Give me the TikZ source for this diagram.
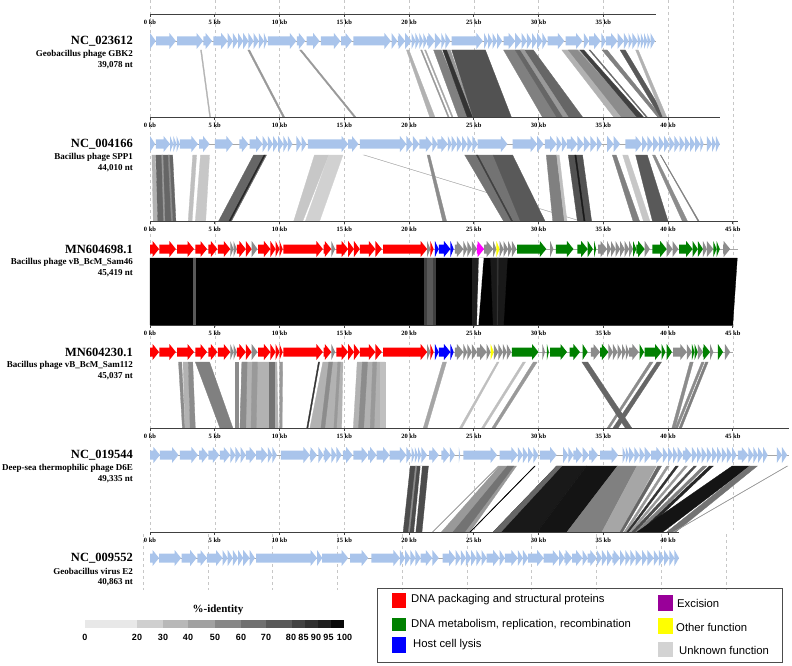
\documentclass[tikz,border=0pt]{standalone}
\usepackage{fontspec}
\setmainfont{Liberation Serif}
\newfontfamily\lsans{Liberation Sans}
\definecolor{gblue}{HTML}{A9C4EB}
\definecolor{gred}{HTML}{FF0000}
\definecolor{ggreen}{HTML}{008000}
\definecolor{gbl}{HTML}{0000FF}
\definecolor{gmag}{HTML}{FF00FF}
\definecolor{gyel}{HTML}{FFFF00}
\definecolor{ggray}{HTML}{8C8C8C}
\definecolor{gpurp}{HTML}{990099}
\definecolor{gunk}{HTML}{D3D3D3}
\newcommand\gn[4]{\pgfmathsetmacro\hs{max(#1,#2-0.5)}\fill[#4] (#1,#3-4.5) -- (\hs,#3-4.5) -- (\hs,#3-8) -- (#2,#3) -- (\hs,#3+8) -- (\hs,#3+4.5) -- (#1,#3+4.5) -- cycle;}
\newcommand\bands[3]{\foreach \a/\b/\c/\d/\e in {#3} {\filldraw[fill=\e,draw=\e,line width=0.3pt] (\a,#1) -- (\b,#1) -- (\d,#2) -- (\c,#2) -- cycle;}}
\newcommand\axis[3]{\draw[axisline] (0,#1) -- (#2,#1);
 \foreach \k in {0,5,...,#3} {\draw[axisline] (\k,#1) -- (\k,#1+3); \node[ticklab] at (\k,#1+8.5) {\k\ kb};}}
\newcommand\backbone[2]{\draw[gray!70,line width=0.5pt] (0,#1) -- (#2,#1);}
\tikzset{
 axisline/.style={black!75,line width=0.8pt},
 ticklab/.style={font=\bfseries\fontsize{6.5}{7}\selectfont,inner sep=0pt},
 grid/.style={black!22,line width=0.5pt,dash pattern=on 3pt off 3pt},
 acc/.style={anchor=east,inner sep=0pt,font=\bfseries\fontsize{12.5}{13}\selectfont},
 spec/.style={anchor=east,inner sep=0pt,font=\bfseries\fontsize{9}{10}\selectfont},
 legtext/.style={anchor=west,inner sep=0pt,font=\lsans\fontsize{11.3}{13}\selectfont},
 idlab/.style={inner sep=0pt,font=\lsans\bfseries\fontsize{9}{10}\selectfont}
}
\begin{document}
\begin{tikzpicture}[x=1pt,y=-1pt]
\useasboundingbox (0,0) rectangle (792,666);
% grid lines
\foreach \k in {0,...,9} {\draw[grid] (150+64.75*\k,0) -- (150+64.75*\k,530);}
\foreach \k in {0,...,9} {\draw[grid] (143+64.75*\k,534) -- (143+64.75*\k,590);}
\begin{scope}[xshift=150pt,x=12.95pt]
% ---------- band 1
\bands{50}{117}{3.9/3.98/4.6/4.68/black!30, 7.55/7.7/10.25/10.4/black!40, 11.55/11.7/15.75/15.9/black!40,
 19.8/20.0/21.6/22.0/black!30, 20.9/21.0/23.0/23.1/black!40, 21.2/21.3/23.3/23.4/black!35,
 21.9/22.5/23.8/24.6/black!50, 22.9/23.2/24.7/25.0/black!40, 22.6/22.9/24.5/24.9/black!80,
 23.3/25.9/24.95/27.9/black!68, 27.3/28.2/30.3/31.5/black!50, 28.2/29.6/31.4/33.4/black!60,
 28.6/28.9/31.9/32.3/black!40, 31.8/33.2/35.8/38.1/black!30, 32.3/33.0/36.4/37.7/black!45,
 33.2/33.5/37.6/38.1/black!75, 33.9/34.0/38.3/38.4/black!60, 34.9/35.3/39.2/39.5/black!50,
 36.3/36.7/39.4/39.8/black!65, 37.5/37.7/39.6/39.9/black!30}
% ---------- band 2
\bands{155}{221}{0.15/0.4/0.25/0.6/black!30, 0.45/1.75/0.6/2.0/black!60, 0.9/1.0/1.05/1.15/black!40,
 1.4/1.5/1.65/1.75/black!45,
 3.3/3.6/2.95/3.25/black!25, 3.9/4.6/3.5/4.3/black!22, 8.0/9.0/5.3/6.3/black!60,
 8.8/8.9/6.1/6.2/black!85, 12.7/13.8/11.1/11.8/black!22, 13.8/14.9/12.0/13.1/black!18,
 16.5/16.55/33.2/33.25/black!30, 21.4/21.6/22.6/22.9/black!45, 24.3/26.5/27.3/29.1/black!55,
 25.2/25.3/27.9/28.0/black!75, 26.5/28.0/28.6/30.5/black!65, 30.6/31.4/31.1/32.0/black!50,
 31.4/31.6/32.0/32.2/black!25, 32.3/33.4/33.0/34.1/black!68, 32.8/32.9/33.5/33.6/black!90,
 35.7/36.0/37.3/37.8/black!50, 36.5/36.9/38.1/38.6/black!22, 37.5/38.4/38.8/40.0/black!65,
 38.8/39.0/41.1/41.5/black!45, 39.4/39.45/42.3/42.4/black!50}
% ---------- band 3
\bands{258}{325}{0/45.35/0/45.0/black, 3.35/3.45/3.35/3.45/black!65, 21.2/22.0/21.2/22.0/black!75,
 21.4/21.8/21.4/21.8/black!65, 24.9/25.25/24.9/25.25/black!88, 25.4/25.75/25.25/25.35/white,
 26.3/27.6/26.5/27.3/black!90, 26.8/26.9/26.8/26.85/black!80}
% ---------- band 4
\bands{362}{428}{2.2/2.45/2.5/2.7/black!45, 2.55/2.95/2.7/3.1/black!30, 2.95/3.3/3.1/3.5/black!45,
 3.5/4.6/5.4/6.4/black!50, 6.6/6.8/6.6/6.8/black!45, 7.1/9.8/6.95/9.9/black!30,
 7.1/7.5/6.95/7.4/black!45, 7.9/8.3/7.8/8.2/black!40, 9.2/9.6/9.2/9.6/black!55,
 10.0/10.25/10.0/10.2/black!40, 13.0/13.1/12.1/12.2/black!80, 13.35/14.9/12.35/14.8/black!30,
 13.8/14.1/13.2/13.5/black!45, 14.5/14.7/14.2/14.4/black!40,
 16.0/18.15/15.7/18.15/black!30, 16.4/16.8/16.1/16.5/black!45, 17.2/17.5/17.0/17.3/black!40,
 17.75/18.15/17.75/18.15/black!25,
 22.6/22.9/21.1/21.4/black!35, 26.8/26.95/23.9/24.1/black!25, 28.8/29.0/25.6/25.8/black!25,
 29.6/29.9/26.4/26.65/black!40, 38.6/38.85/35.3/35.5/black!45, 39.15/39.5/35.75/36.15/black!60,
 33.35/33.8/36.7/37.2/black!60,
 41.7/41.95/40.3/40.55/black!45, 42.6/42.8/40.55/40.75/black!45, 42.9/43.1/40.85/41.05/black!50}
% ---------- band 5
\bands{466}{532}{20.1/21.5/19.55/21.0/black!70, 20.9/21.0/20.4/20.5/white, 20.5/20.6/19.95/20.05/black!45,
 26.9/26.95/21.8/21.85/black!40, 27.0/28.3/22.5/24.7/black!40, 27.6/28.1/23.4/24.3/black!55,
 29.7/29.75/24.7/24.75/black, 31.4/33.7/26.5/29.9/black!90, 31.4/31.8/26.5/27.1/black!60,
 33.7/36.1/29.9/32.2/black!92, 36.1/37.6/32.2/34.9/black!50, 37.6/39.1/34.9/36.3/black!35,
 39.2/39.5/36.3/36.5/black!60, 39.9/40.1/36.6/36.8/black!40, 40.6/40.8/36.8/37.0/black!80,
 41.3/41.5/37.0/37.2/black!40, 42.0/42.2/37.2/37.5/black!70, 42.7/43.0/37.5/37.8/black!50,
 43.2/43.5/37.8/38.1/black!85, 44.95/46.3/37.6/39.6/black!92, 46.3/46.9/39.9/40.6/black!55,
 49.2/49.25/40.4/40.45/black!40}
% ---------- track 1
\axis{14}{39.078}{35}
\backbone{41}{39.078}
\foreach \a/\b in {0/0.45, 0.47/2.0, 2.1/4.1, 4.12/4.8, 4.9/6.0, 6.0/6.4, 6.4/6.8, 6.8/7.2, 7.2/7.6, 7.6/8.0, 8.0/8.4, 8.4/8.8, 8.8/9.05, 9.1/11.3, 11.35/12.0, 12.1/13.1, 13.2/14.7, 14.75/15.6, 15.7/18.6, 18.65/19.1, 19.15/19.7, 19.7/20.2, 20.2/20.5, 20.5/20.8, 20.8/21.1, 21.1/21.4, 21.4/22.0, 22.0/22.5, 22.5/22.8, 22.8/23.2, 23.3/25.7, 25.8/26.1, 26.1/26.45, 26.45/26.8, 26.8/27.2, 27.3/28.2, 28.2/28.7, 28.7/29.1, 29.1/29.5, 29.5/29.9, 29.9/30.3, 30.3/30.65, 30.7/32.0, 32.1/33.4, 33.5/33.9, 33.9/34.8, 34.85/35.2, 35.2/36.1, 36.1/36.6, 36.6/36.95, 36.95/37.25, 37.25/37.65, 37.65/37.9, 37.9/38.15, 38.15/38.4, 38.4/38.65, 38.65/39.0} {\gn{\a}{\b}{41}{gblue}}
% ---------- track 2
\axis{117}{44.01}{40}
\backbone{144}{44.01}
\foreach \a/\b in {0/0.4, 0.45/1.55, 1.55/1.8, 1.8/2.05, 2.05/2.3, 2.3/3.7, 3.8/4.6, 5.0/6.4, 6.9/7.6, 7.7/8.7, 8.7/9.1, 9.1/9.5, 9.5/9.9, 9.9/10.3, 10.3/10.65, 10.65/11.0, 11.3/11.7, 11.7/12.1, 12.2/15.3, 15.3/16.1, 16.2/19.8, 19.8/20.3, 20.3/20.8, 20.8/21.8, 21.8/22.2, 22.2/23.0, 23.0/23.3, 23.3/23.7, 23.7/24.1, 24.1/24.5, 24.5/24.9, 24.9/25.3, 25.3/27.6, 28.0/29.9, 29.9/30.4, 30.5/31.4, 31.4/31.8, 31.8/32.2, 32.2/33.0, 33.0/33.5, 33.5/34.0, 34.0/34.5, 34.5/34.9, 35.3/35.8, 35.8/36.3, 36.7/38.0, 38.0/38.4, 38.4/38.85, 38.85/39.3, 39.3/39.7, 39.7/40.1, 40.1/40.5, 40.5/40.9, 40.9/41.3, 41.3/41.7, 41.7/42.1, 42.1/42.5, 42.5/42.75, 43.0/43.4, 43.4/43.7, 43.7/44.0} {\gn{\a}{\b}{144}{gblue}}
% ---------- track 3
\axis{221}{45.419}{45}
\backbone{249}{45.419}
\foreach \a/\b/\c in {0/0.7/gred, 0.72/2.0/gred, 2.1/3.4/gred, 3.5/4.4/gred, 4.5/5.2/gred, 5.25/6.2/gred, 6.2/6.45/ggray, 6.45/6.7/ggray, 6.7/7.4/gred, 7.4/7.85/gred, 7.85/8.3/ggray, 8.35/9.3/gred, 9.3/9.7/gred, 9.7/10.0/gred, 10.0/10.25/gred, 10.3/13.35/gred, 13.4/14.0/gred, 14.0/14.3/ggray, 14.4/15.3/gred, 15.3/15.75/gred, 15.75/16.2/gred, 16.2/17.4/gred, 17.4/17.9/gred, 18.0/21.4/gred, 21.4/21.65/ggray, 21.65/21.9/gred, 22.0/22.3/gbl, 22.3/23.2/gbl, 23.2/23.45/gbl, 23.55/24.2/ggray, 24.2/24.5/ggray, 24.5/24.85/ggray, 24.85/25.25/ggray, 25.25/25.8/gmag, 25.8/26.5/ggray, 26.5/26.75/ggray, 26.75/27.0/gyel, 27.0/27.3/ggray, 27.3/27.65/ggray, 27.65/27.95/ggray, 27.95/28.3/ggray, 28.35/30.6/ggreen, 30.9/31.15/ggray, 31.35/32.7/ggreen, 33.0/33.8/ggreen, 33.8/34.2/ggreen, 34.3/34.45/ggreen, 34.6/35.3/ggray, 35.3/35.6/ggray, 35.6/35.95/ggray, 35.95/36.3/ggray, 36.3/36.65/ggray, 36.65/37.0/ggray, 37.0/37.3/ggray, 37.3/37.55/ggreen, 37.55/38.2/ggreen, 38.2/38.6/ggray, 38.8/39.9/ggreen, 39.9/40.35/ggray, 40.35/40.8/ggray, 40.85/41.9/ggreen, 41.9/42.3/ggreen, 42.3/42.7/ggreen, 42.7/43.0/ggray, 43.0/43.5/ggray, 43.5/43.75/ggreen, 43.75/44.0/ggreen, 44.25/44.8/ggray} {\gn{\a}{\b}{249}{\c}}
% ---------- track 4
\axis{325}{45.037}{45}
\backbone{352}{45.037}
\foreach \a/\b/\c in {0/0.7/gred, 0.72/2.0/gred, 2.1/3.4/gred, 3.5/4.4/gred, 4.5/5.2/gred, 5.25/6.2/gred, 6.2/6.45/ggray, 6.45/6.7/ggray, 6.7/7.4/gred, 7.4/7.85/gred, 7.85/8.3/ggray, 8.35/9.3/gred, 9.3/9.7/gred, 9.7/10.0/gred, 10.0/10.25/gred, 10.3/13.35/gred, 13.4/14.0/gred, 14.0/14.3/ggray, 14.4/15.3/gred, 15.3/15.75/gred, 15.75/16.2/gred, 16.2/17.4/gred, 17.4/17.9/gred, 18.0/21.4/gred, 21.4/21.65/ggray, 21.65/21.9/gred, 22.0/22.3/gbl, 22.3/23.2/gbl, 23.2/23.45/gbl, 23.55/24.2/ggray, 24.2/24.5/ggray, 24.5/24.85/ggray, 24.85/25.25/ggray, 25.25/26.0/ggray, 26.0/26.3/ggray, 26.3/26.55/gyel, 26.55/26.9/ggray, 26.9/27.25/ggray, 27.25/27.55/ggray, 27.55/27.9/ggray, 27.95/30.0/ggreen, 30.3/30.5/ggray, 30.65/30.8/ggreen, 30.9/32.2/ggreen, 32.4/33.2/ggreen, 33.4/33.8/ggreen, 34.05/34.75/ggray, 34.75/35.4/ggreen, 35.4/35.75/ggray, 35.75/36.1/ggray, 36.1/36.45/ggray, 36.45/36.75/ggray, 36.75/37.0/ggray, 37.0/37.75/ggray, 37.8/38.15/ggreen, 38.2/39.5/ggreen, 39.5/39.8/ggreen, 39.9/40.3/ggreen, 40.4/41.45/ggray, 41.45/41.85/ggray, 41.85/42.05/ggreen, 42.05/42.3/ggreen, 42.3/42.7/ggray, 42.7/43.25/ggreen, 43.25/43.5/ggray, 43.85/44.25/ggreen, 44.4/44.8/ggray} {\gn{\a}{\b}{352}{\c}}
% ---------- track 5
\axis{428}{49.335}{45}
\backbone{455}{49.335}
\foreach \a/\b in {0/0.77, 0.77/2.2, 2.3/3.7, 3.8/4.5, 4.5/5.35, 5.4/6.2, 6.2/6.6, 6.6/7.0, 7.0/7.4, 7.4/8.2, 8.2/9.1, 9.1/9.45, 9.45/9.8, 10.1/12.35, 12.35/12.9, 13.0/13.4, 13.4/14.0, 14.0/14.4, 14.4/14.8, 14.9/15.65, 15.7/16.85, 16.85/17.5, 17.5/18.5, 18.5/19.8, 19.8/20.2, 20.2/20.45, 20.45/20.7, 20.7/20.95, 20.95/21.4, 21.55/22.3, 22.5/23.15, 23.15/23.55, 23.85/23.95, 24.2/26.8, 27.0/28.4, 28.4/28.8, 28.8/29.2, 29.2/29.6, 29.6/30.0, 30.1/31.4, 31.9/32.3, 32.3/32.7, 32.7/33.4, 33.4/33.9, 33.9/34.6, 34.75/36.15, 36.5/36.75, 36.75/37.0, 37.0/37.4, 37.4/37.8, 37.8/38.2, 38.2/38.7, 38.7/39.6, 39.6/40.0, 40.0/40.4, 40.4/40.75, 40.75/41.15, 41.15/41.85, 41.85/42.25, 42.25/42.6, 42.6/43.0, 43.0/43.4, 43.4/43.8, 43.8/44.15, 44.15/44.55, 44.55/44.95, 44.95/45.3, 45.4/46.2, 46.2/46.6, 46.6/46.95, 46.95/47.35, 47.35/47.7, 48.4/48.8, 48.8/49.2} {\gn{\a}{\b}{455}{gblue}}
% ---------- track 6
\axis{532}{40.863}{40}
\backbone{558}{40.863}
\foreach \a/\b in {0/0.7, 0.7/2.4, 2.45/3.6, 3.65/4.4, 4.4/5.6, 5.6/6.0, 6.0/6.4, 6.4/6.8, 6.8/7.2, 7.2/7.7, 7.7/8.1, 8.2/12.9, 12.9/13.3, 13.3/15.3, 15.45/16.85, 17.1/19.3, 19.3/19.7, 19.7/20.1, 20.1/20.5, 20.5/20.9, 20.9/21.8, 21.8/22.3, 22.6/23.6, 23.6/24.0, 24.0/24.4, 24.4/24.8, 24.8/25.2, 25.2/25.6, 25.6/26.0, 26.0/27.0, 27.0/27.4, 27.4/28.4, 28.4/28.8, 28.8/29.2, 29.2/30.4, 30.4/31.6, 31.6/32.0, 32.0/32.6, 32.6/33.4, 33.4/33.8, 33.8/34.5, 34.5/34.9, 34.9/35.3, 35.3/35.7, 35.7/36.3, 36.3/36.7, 36.7/37.1, 37.1/37.5, 37.5/38.0, 38.0/38.4, 38.4/38.9, 38.9/39.3, 39.3/39.7, 39.7/40.1, 40.1/40.5, 40.5/40.85} {\gn{\a}{\b}{558}{gblue}}
\end{scope}
% ---------- labels
\node[acc] (a1) at (133,41) {NC\_023612};
\node[spec] (s1) at (133,54) {Geobacillus phage GBK2};
\node[spec] (n1) at (133,65) {39,078 nt};
\node[acc] (a2) at (133,144) {NC\_004166};
\node[spec] (s2) at (133,157) {Bacillus phage SPP1};
\node[spec] (n2) at (133,168) {44,010 nt};
\node[acc] (a3) at (133,249) {MN604698.1};
\node[spec] (s3) at (133,262) {Bacillus phage vB\_BcM\_Sam46};
\node[spec] (n3) at (133,273) {45,419 nt};
\node[acc] (a4) at (133,352) {MN604230.1};
\node[spec] (s4) at (133,365) {Bacillus phage vB\_BcM\_Sam112};
\node[spec] (n4) at (133,376) {45,037 nt};
\node[acc] (a5) at (133,455) {NC\_019544};
\node[spec] (s5) at (133,468) {Deep-sea thermophilic phage D6E};
\node[spec] (n5) at (133,479) {49,335 nt};
\node[acc] (a6) at (133,558) {NC\_009552};
\node[spec] (s6) at (133,571) {Geobacillus virus E2};
\node[spec] (n6) at (133,582) {40,863 nt};
% ---------- identity legend
\node[inner sep=0pt,font=\bfseries\fontsize{11}{12}\selectfont] (idt) at (218,610) {\%-identity};
\foreach \l/\r/\c in {85/137/black!9, 137/163/black!19, 163/188/black!28, 188/215/black!37, 215/241/black!47, 241/266/black!56, 266/292/black!65, 292/305/black!74, 305/318/black!81, 318/331/black!88, 331/344/black!97}
 {\fill[\c] (\l,620) rectangle (\r,628);}
\foreach \x/\t in {85/0, 137/20, 163/30, 188/40, 215/50, 241/60, 266/70, 291/80, 303.5/85, 316/90, 328.5/95, 344.5/100}
 {\node[idlab] at (\x,637) {\t};}
% ---------- function legend
\draw[black!70,line width=0.6pt] (377,588) rectangle (782,662);
\fill[gred] (392,593) rectangle (406,608);
\node[legtext] (t1) at (411,600) {DNA packaging and structural proteins};
\fill[ggreen] (392,618) rectangle (406,631);
\node[legtext] (t2) at (411,625) {DNA metabolism, replication, recombination};
\fill[gbl] (392,637) rectangle (406,653);
\node[legtext] (t3) at (413,645) {Host cell lysis};
\fill[gpurp] (658,595) rectangle (673,611);
\node[legtext] (t4) at (677,603) {Excision};
\fill[gyel] (658,618) rectangle (673,634);
\node[legtext] (t5) at (676,627) {Other function};
\fill[gunk] (658,642) rectangle (673,657);
\node[legtext] (t6) at (679,650) {Unknown function};
\end{tikzpicture}
\end{document}
